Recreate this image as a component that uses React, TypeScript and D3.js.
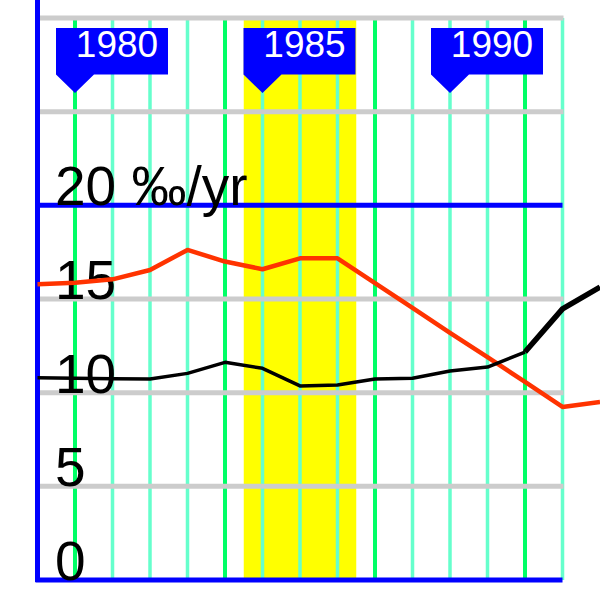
import React from 'react';
import * as d3 from 'd3';

// values
const years = [1979, 1980, 1981, 1982, 1983, 1984, 1985, 1986, 1987, 1988, 1989, 1990, 1991, 1992, 1993, 1994];
const redSeries = [15.79, 15.87, 16.05, 16.55, 17.62, 17.0, 16.59, 17.17, 17.17, 15.85, 14.52, 13.19, 11.9, 10.57, 9.24, 9.5];
const blackSeries = [10.8, 10.77, 10.74, 10.73, 11.03, 11.62, 11.3, 10.36, 10.41, 10.73, 10.77, 11.16, 11.37, 12.17, 14.47, 15.64];
const gridYears = [1980, 1981, 1982, 1983, 1984, 1985, 1986, 1987, 1988, 1989, 1990, 1991, 1992, 1993];
const flagYears = [1980, 1985, 1990];
const yTicks = [0, 5, 10, 15, 20];
const grayLevels = [5, 10, 15, 25, 30];
const band = [1984.5, 1987.5];
const thickFrom = 1992;

const W = 600;
const H = 600;

const App: React.FC = () => {
  const x = d3.scaleLinear().domain([1979, 1993]).range([37.5, 562.5]);
  const y = d3.scaleLinear().domain([0, 30]).range([580, 18]);

  const pts = (vals: number[]) => years.map((yr, i) => [yr, vals[i]] as [number, number]);
  const line = d3.line<[number, number]>().x(d => x(d[0])).y(d => y(d[1]));

  const black = pts(blackSeries);
  const blackThin = black.filter(d => d[0] <= thickFrom);
  const blackThick = black.filter(d => d[0] >= thickFrom);

  const font = '"Liberation Sans", Arial, sans-serif';

  return (
    <svg width={W} height={H} style={{ position: 'absolute', left: 0, top: 0 }}>
      <rect x={0} y={0} width={W} height={H} fill="white" />

      {/* shaded period */}
      <rect x={x(band[0])} y={y(30)} width={x(band[1]) - x(band[0])} height={y(0) - y(30)} fill="#ffff00" />

      {/* vertical year lines */}
      {gridYears.map(yr => {
        const major = (yr - 1980) % 4 === 0;
        return (
          <line key={yr} x1={x(yr)} x2={x(yr)} y1={y(30)} y2={y(0)}
            stroke={major ? '#00ff66' : '#66ffcc'} strokeWidth={major ? 4 : 3.5} />
        );
      })}

      {/* horizontal gray grid */}
      {grayLevels.map(v => (
        <line key={v} x1={x(1979) + 2} x2={x(1993) + 1} y1={y(v)} y2={y(v)} stroke="#cccccc" strokeWidth={5} />
      ))}

      {/* blue axes */}
      <line x1={x(1979)} x2={x(1993)} y1={y(20)} y2={y(20)} stroke="#0000ff" strokeWidth={5} />
      <line x1={x(1979) - 2} x2={x(1993)} y1={y(0)} y2={y(0)} stroke="#0000ff" strokeWidth={5} />
      <line x1={x(1979)} x2={x(1979)} y1={0} y2={y(0) + 2} stroke="#0000ff" strokeWidth={5} />

      {/* year flags */}
      {flagYears.map(yr => {
        const cx = x(yr);
        return (
          <g key={yr}>
            <path d={`M${cx - 19},28 H${cx + 93} V74.5 H${cx + 19} L${cx},93 L${cx - 19},74.5 Z`} fill="#0000ff" />
            <text x={cx + 42} y={57} fill="white" fontFamily={font} fontSize={37} textAnchor="middle">{yr}</text>
          </g>
        );
      })}

      {/* y labels */}
      {yTicks.map(v => (
        <text key={v} x={55} y={y(v)} fontFamily={font} fontSize={55} fill="black">
          {v === 20 ? '20 \u2030/yr' : v}
        </text>
      ))}

      {/* series */}
      <path d={line(pts(redSeries)) || ''} fill="none" stroke="#ff3300" strokeWidth={4.5} strokeLinejoin="round" />
      <path d={line(blackThin) || ''} fill="none" stroke="black" strokeWidth={3.5} strokeLinejoin="round" />
      <path d={line(blackThick) || ''} fill="none" stroke="black" strokeWidth={5.5} strokeLinejoin="round" />
    </svg>
  );
};

export default App;
